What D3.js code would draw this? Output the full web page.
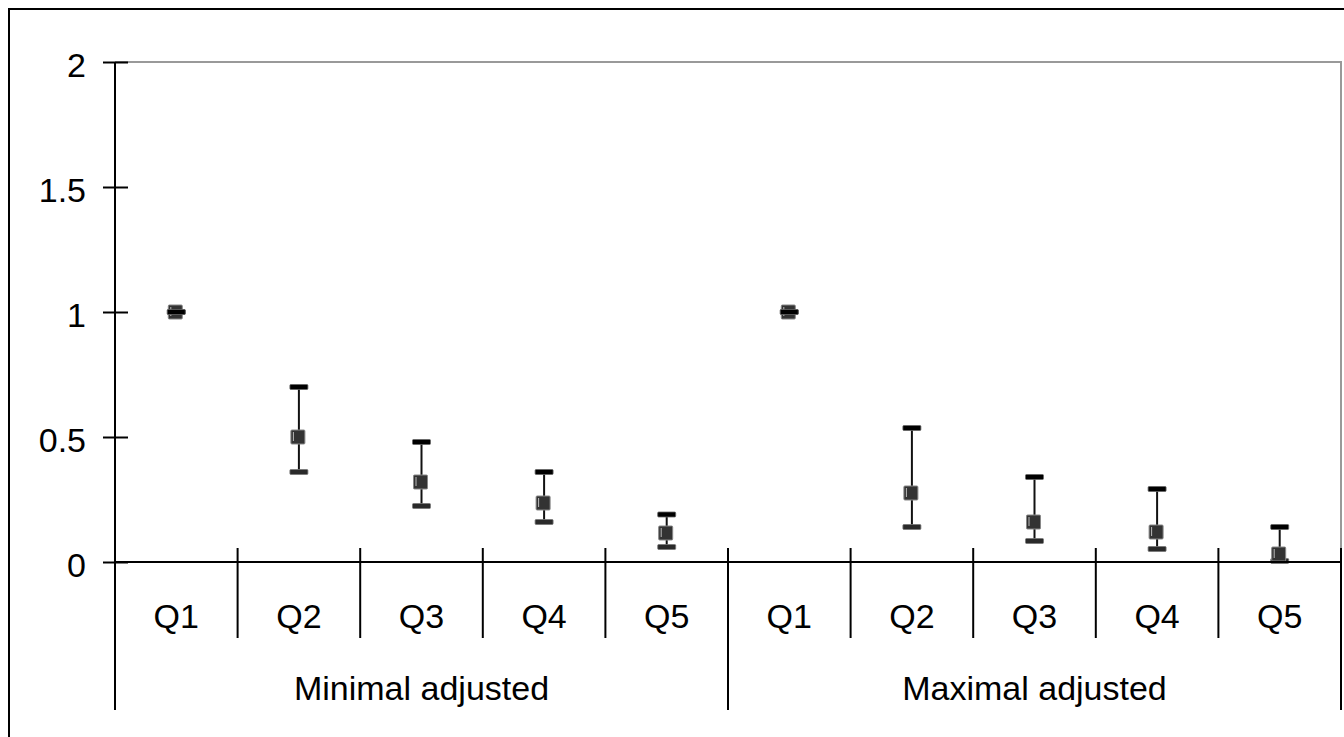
<!DOCTYPE html>
<html>
<head>
  <title>Quintile estimates</title>
  <script src="https://d3js.org/d3.v7.min.js"></script>
  <style>
    body { margin: 0; background: #fff; }
    text { font-family: "Liberation Sans", Arial, sans-serif; fill: #000; }
  </style>
</head>
<body>
  <svg id="chart"></svg>
  <script>
    // data
    const groups = ["Minimal adjusted", "Maximal adjusted"];
    const quintiles = ["Q1", "Q2", "Q3", "Q4", "Q5"];
    const minimalEst = [1, 0.5, 0.32, 0.236, 0.116];
    const minimalLo  = [1, 0.36, 0.224, 0.16, 0.06];
    const minimalHi  = [1, 0.70, 0.48, 0.36, 0.19];
    const maximalEst = [1, 0.276, 0.16, 0.12, 0.032];
    const maximalLo  = [1, 0.14, 0.084, 0.052, 0.004];
    const maximalHi  = [1, 0.536, 0.34, 0.292, 0.14];
    const yTicks = [0, 0.5, 1, 1.5, 2];

    const W = 1344, H = 737;
    const plot = {left: 115, right: 1341, top: 62, bottom: 562};
    const fontSize = "34px";

    const svg = d3.select("#chart")
        .attr("width", W)
        .attr("height", H);

    // outer frame (runs off the right and bottom of the picture)
    svg.append("rect")
        .attr("x", 9).attr("y", 9)
        .attr("width", 2000).attr("height", 2000)
        .attr("fill", "none").attr("stroke", "#000").attr("stroke-width", 2);

    const rows = [];
    groups.forEach((g, gi) => {
      const est = gi === 0 ? minimalEst : maximalEst;
      const lo = gi === 0 ? minimalLo : maximalLo;
      const hi = gi === 0 ? minimalHi : maximalHi;
      quintiles.forEach((q, i) => {
        rows.push({key: g + "|" + q, group: g, q: q, i: i, est: est[i], lo: lo[i], hi: hi[i]});
      });
    });

    const x = d3.scaleBand()
        .domain(rows.map(d => d.key))
        .range([plot.left, plot.right])
        .paddingInner(0).paddingOuter(0);

    const y = d3.scaleLinear()
        .domain([0, 2])
        .range([plot.bottom, plot.top]);

    // grey plot frame, top and right
    svg.append("path")
        .attr("d", `M${plot.left},${y(2)}H${plot.right}V${y(0)}`)
        .attr("fill", "none").attr("stroke", "#999").attr("stroke-width", 2);

    // y axis
    const yAxis = svg.append("g")
        .attr("transform", `translate(${plot.left},0)`)
        .call(d3.axisLeft(y).tickValues(yTicks).tickSize(12).tickPadding(17)
          .tickFormat(d3.format("")));
    yAxis.select(".domain").remove();
    yAxis.selectAll(".tick line").attr("x1", 13).attr("stroke", "#000").attr("stroke-width", 2);
    yAxis.selectAll(".tick text")
        .attr("dy", "0.42em")
        .style("font-size", fontSize)
        .style("font-family", "'Liberation Sans', Arial, sans-serif");

    svg.append("line")
        .attr("x1", plot.left).attr("x2", plot.left)
        .attr("y1", y(2)).attr("y2", 710)
        .attr("stroke", "#000").attr("stroke-width", 2);

    // x axis line
    svg.append("line")
        .attr("x1", plot.left).attr("x2", plot.right)
        .attr("y1", y(0)).attr("y2", y(0))
        .attr("stroke", "#000").attr("stroke-width", 2);

    // category separators
    const bounds = rows.map(d => x(d.key) + x.bandwidth());
    svg.selectAll("line.sep")
      .data(bounds)
      .enter().append("line")
        .attr("class", "sep")
        .attr("x1", d => d).attr("x2", d => d)
        .attr("y1", y(0) - 14)
        .attr("y2", (d, i) => (i + 1) % quintiles.length === 0 ? 710 : 638)
        .attr("stroke", "#000").attr("stroke-width", 2);

    // quintile labels
    svg.selectAll("text.q")
      .data(rows)
      .enter().append("text")
        .attr("class", "q")
        .attr("x", d => x(d.key) + x.bandwidth() / 2)
        .attr("y", 628)
        .attr("text-anchor", "middle")
        .style("font-size", fontSize)
        .text(d => d.q);

    // group labels
    svg.selectAll("text.g")
      .data(groups)
      .enter().append("text")
        .attr("class", "g")
        .attr("x", g => {
          const first = x(g + "|" + quintiles[0]);
          const last = x(g + "|" + quintiles[quintiles.length - 1]) + x.bandwidth();
          return (first + last) / 2;
        })
        .attr("y", 700)
        .attr("text-anchor", "middle")
        .style("font-size", fontSize)
        .text(g => g);

    // error bars and markers
    const cx = d => x(d.key) + x.bandwidth() / 2;
    const cap = 18, capH = 5, box = 14;

    const marks = svg.selectAll("g.mark")
      .data(rows)
      .enter().append("g")
        .attr("class", "mark");

    marks.append("line")
        .attr("x1", cx).attr("x2", cx)
        .attr("y1", d => y(d.hi)).attr("y2", d => y(d.lo))
        .attr("stroke", "#111").attr("stroke-width", 2);

    marks.append("rect")
        .attr("x", d => cx(d) - cap / 2)
        .attr("y", d => y(d.lo) - capH / 2)
        .attr("width", cap).attr("height", capH)
        .attr("rx", 1)
        .attr("fill", "#2a2a2a").attr("stroke", "#777").attr("stroke-width", 0.8);

    marks.append("rect")
        .attr("x", d => cx(d) - box / 2 - 1)
        .attr("y", d => y(d.est) - box / 2)
        .attr("width", box).attr("height", box)
        .attr("rx", 1)
        .attr("fill", "#333").attr("stroke", "#888").attr("stroke-width", 1);

    marks.append("line")
        .attr("x1", d => cx(d) - box / 2 + 1.5).attr("x2", d => cx(d) - box / 2 + 1.5)
        .attr("y1", d => y(d.est) - box / 2 + 2).attr("y2", d => y(d.est) + box / 2 - 3)
        .attr("stroke", "#bbb").attr("stroke-width", 1);

    marks.append("rect")
        .attr("x", d => cx(d) - cap / 2)
        .attr("y", d => y(d.hi) - capH / 2)
        .attr("width", cap).attr("height", capH)
        .attr("rx", 1)
        .attr("fill", "#000").attr("stroke", "#666").attr("stroke-width", 0.8);

    // redraw axis over the low markers sitting on zero
    svg.append("line")
        .attr("x1", plot.left).attr("x2", plot.right)
        .attr("y1", y(0)).attr("y2", y(0))
        .attr("stroke", "#000").attr("stroke-width", 2);
  </script>
</body>
</html>
